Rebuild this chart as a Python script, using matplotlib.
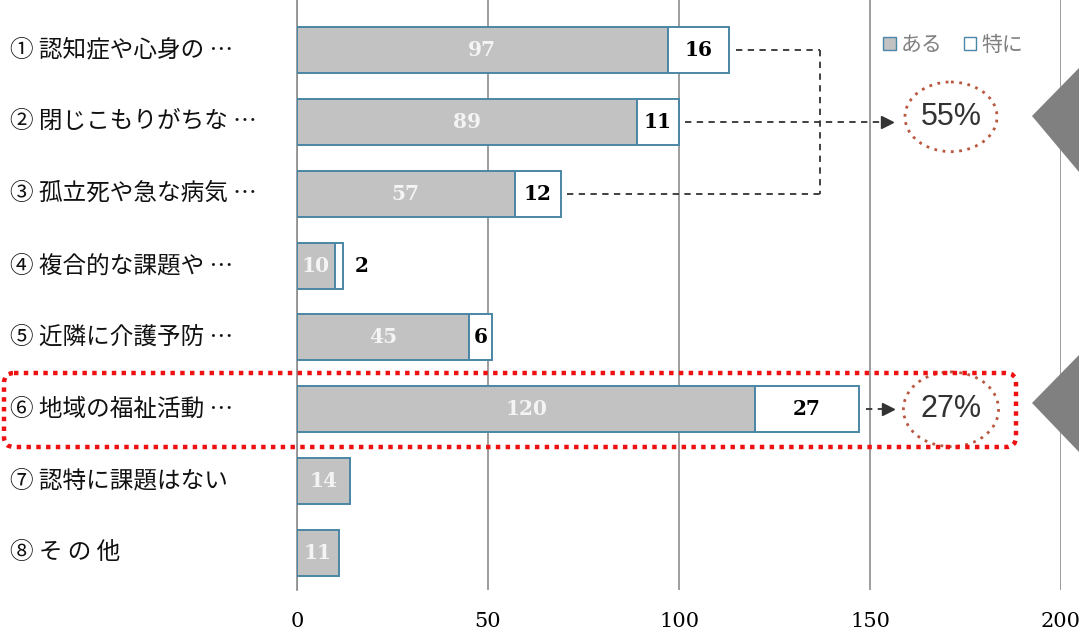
import numpy as np
import matplotlib.pyplot as plt
from matplotlib.patches import Ellipse, Polygon, FancyBboxPatch, Patch
from matplotlib.transforms import blended_transform_factory

# Data
labels = ["① 認知症や心身の …", "② 閉じこもりがちな …", "③ 孤立死や急な病気 …",
          "④ 複合的な課題や …", "⑤ 近隣に介護予防 …", "⑥ 地域の福祉活動 …",
          "⑦ 認特に課題はない", "⑧ そ の 他"]
aru = [97, 89, 57, 10, 45, 120, 14, 11]      # ある
tokuni = [16, 11, 12, 2, 6, 27, 0, 0]       # 特に
xticks = [0, 50, 100, 150, 200]
pct_labels = ["55%", "27%"]

JP = ["Noto Sans CJK JP", "DejaVu Sans"]
SERIF = "DejaVu Serif"
GRAY = "#c2c2c2"
EDGE = "#4a86a6"

fig = plt.figure(figsize=(10.79, 6.37), dpi=100)
ax = fig.add_axes([297 / 1079, 47 / 637, 764 / 1079, 590 / 637])

y = np.arange(len(labels))
h = 0.64
ax.barh(y, aru, height=h, color=GRAY, edgecolor=EDGE, linewidth=1.4, zorder=3)
tok = np.array(tokuni)
mask = tok > 0
ax.barh(y[mask], tok[mask], left=np.array(aru)[mask], height=h, color="white",
        edgecolor=EDGE, linewidth=1.4, zorder=3)

for i in range(len(labels)):
    ax.text(aru[i] / 2, i, str(aru[i]), ha="center", va="center", color="#f4f4f4",
            fontsize=14.5, fontfamily=SERIF, fontweight="bold", zorder=4)
    if tokuni[i] > 0:
        if tokuni[i] >= 4:
            ax.text(aru[i] + tokuni[i] / 2, i, str(tokuni[i]), ha="center", va="center",
                    color="black", fontsize=14.5, fontfamily=SERIF, fontweight="bold", zorder=4)
        else:
            ax.text(aru[i] + tokuni[i] + 3, i, str(tokuni[i]), ha="left", va="center",
                    color="black", fontsize=14.5, fontfamily=SERIF, fontweight="bold", zorder=4)

# category labels on the left
tr = blended_transform_factory(fig.transFigure, ax.transData)
for i, lab in enumerate(labels):
    ax.text(10 / 1079, i, lab, transform=tr, ha="left", va="center", fontsize=17,
            fontfamily=JP, color="#111111")

ax.set_xlim(0, 200)
ax.set_ylim(7.515, -0.696)
ax.set_xticks(xticks)
ax.set_xticklabels([str(t) for t in xticks], fontfamily=SERIF, fontsize=15)
ax.set_yticks([])
ax.tick_params(axis="x", length=0, pad=16)
for s in ["top", "right", "bottom"]:
    ax.spines[s].set_visible(False)
ax.spines["left"].set_color("#8c8c8c")
ax.spines["left"].set_linewidth(1.2)
ax.grid(axis="x", color="#8c8c8c", linewidth=1.2, zorder=0)
ax.set_axisbelow(True)

# legend
handles = [Patch(facecolor=GRAY, edgecolor=EDGE, label="ある"),
           Patch(facecolor="white", edgecolor=EDGE, label="特に")]
leg = ax.legend(handles=handles, loc="upper right", bbox_to_anchor=(0.975, 0.975), ncol=2,
                frameon=False, handlelength=0.6, handleheight=0.6, handletextpad=0.25,
                columnspacing=1.0, prop={"family": JP, "size": 15})
for t in leg.get_texts():
    t.set_color("#808080")

# dashed bracket for rows 1-3
dash = dict(color="#333333", linewidth=1.3, linestyle=(0, (3.5, 3)), zorder=5)
xb = 136.9
ax.plot([aru[0] + tokuni[0] + 1.8, xb], [0, 0], **dash)
ax.plot([aru[2] + tokuni[2] + 1.8, xb], [2, 2], **dash)
ax.plot([xb, xb], [0, 2], **dash)
ax.plot([aru[1] + tokuni[1] + 1.5, 153.5], [1, 1], **dash)
ax.plot([154.5], [1], marker=">", color="#333333", markersize=8, zorder=5)
ax.plot([aru[5] + tokuni[5] + 2, 153.5], [5, 5], **dash)
ax.plot([154.8], [5], marker=">", color="#333333", markersize=8, zorder=5)

# percent callouts
for yy, txt, ew, eh in [(0.93, pct_labels[0], 24.1, 0.97), (5.0, pct_labels[1], 24.9, 1.04)]:
    ax.text(171.2, yy, txt, ha="center", va="center", fontsize=22,
            fontfamily="Liberation Sans", color="#333333", zorder=6)
    ax.add_patch(Ellipse((171.2, yy), ew, eh, fill=False, edgecolor="#b9573f",
                         linestyle=(0, (1, 2)), linewidth=2, clip_on=False, zorder=6))

# overlay in pixel coords for decorations
ov = fig.add_axes([0, 0, 1, 1])
ov.set_xlim(0, 1079)
ov.set_ylim(637, 0)
ov.axis("off")
ov.patch.set_visible(False)
ov.add_patch(FancyBboxPatch((4, 373), 1012, 74, boxstyle="round,pad=0,rounding_size=10",
                            fill=False, edgecolor="#ee1111", linewidth=3.2,
                            linestyle=(0, (1, 1.2))))
ov.add_patch(Polygon([(1032, 116), (1079, 68), (1079, 172)], closed=True,
                     facecolor="#808080", edgecolor="none"))
ov.add_patch(Polygon([(1032, 403), (1079, 355), (1079, 452)], closed=True,
                     facecolor="#808080", edgecolor="none"))

fig.savefig("out.png", dpi=100)
